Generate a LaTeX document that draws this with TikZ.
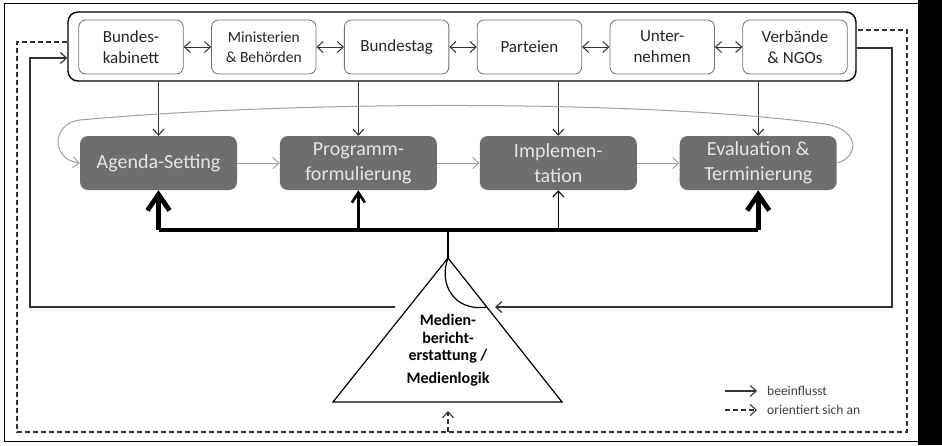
\documentclass[tikz,border=0pt]{standalone}
\usepackage{fontspec}
\setmainfont{Carlito}
\usetikzlibrary{positioning,arrows.meta}

\definecolor{phasegray}{HTML}{6E6E6E}
\definecolor{phasetext}{HTML}{E6E6E6}
\definecolor{flowgray}{HTML}{A0A0A0}
\definecolor{boxgray}{HTML}{707070}
\definecolor{darkline}{HTML}{333333}

\tikzset{
    actor/.style={draw=boxgray, line width=0.8pt, fill=white, rounded corners=7pt, minimum width=104.5pt,
        minimum height=54pt, align=center, inner sep=1pt, text=black!85,
        font=\fontsize{17}{21}\selectfont},
    phase/.style={fill=phasegray, rounded corners=8pt, minimum width=157pt,
        minimum height=54pt, align=center, text=phasetext,
        font=\fontsize{20}{25}\selectfont},
    influence/.style={darkline, line width=1.1pt, ->},
    feedback/.style={flowgray, line width=1pt, ->},
    orient/.style={darkline, line width=1.1pt, dash pattern=on 5pt off 3pt},
    legendtext/.style={anchor=west, inner xsep=10pt, inner ysep=0pt, text=black!75,
        font=\fontsize{13.5}{16}\selectfont}
}

\begin{document}
\begin{tikzpicture}[x=1pt, y=-1pt, >={Straight Barb[length=6pt,width=11pt]}]
    \useasboundingbox (0,0) rectangle (942,445);
    \fill[black] (918,0) rectangle (942,445);
    \draw[line width=1pt] (4,3) rectangle (918,441);

    \node[draw, line width=1.4pt, rounded corners=10pt, minimum width=788pt,
        minimum height=69pt] (akteure) at (462,46.5) {};

    \node[actor] (kabinett) at (131,47) {Bundes-\\kabinett};
    \node[actor, right=27.5pt of kabinett, font=\fontsize{15.5}{20}\selectfont] (ministerien) {Ministerien\\\& Behörden};
    \node[actor, right=27.5pt of ministerien] (bundestag) {Bundestag};
    \node[actor, right=27.5pt of bundestag] (parteien) {Parteien};
    \node[actor, right=27.5pt of parteien] (unternehmen) {Unter-\\nehmen};
    \node[actor, right=27.5pt of unternehmen] (verbaende) {Verbände\\\& NGOs};

    \draw[darkline, line width=1pt, <->] (kabinett) -- (ministerien);
    \draw[darkline, line width=1pt, <->] (ministerien) -- (bundestag);
    \draw[darkline, line width=1pt, <->] (bundestag) -- (parteien);
    \draw[darkline, line width=1pt, <->] (parteien) -- (unternehmen);
    \draw[darkline, line width=1pt, <->] (unternehmen) -- (verbaende);

    \node[phase] (agenda) at (158.5,163) {Agenda-Setting};
    \node[phase, right=42.5pt of agenda] (programm) {Programm-\\formulierung};
    \node[phase, right=42.5pt of programm] (implementation) {Implemen-\\tation};
    \node[phase, right=42.5pt of implementation] (evaluation) {Evaluation \&\\Terminierung};

    \draw[influence] (agenda |- akteure.south) -- (agenda);
    \draw[influence] (programm |- akteure.south) -- (programm);
    \draw[influence] (implementation |- akteure.south) -- (implementation);
    \draw[influence] (evaluation |- akteure.south) -- (evaluation);

    \draw[feedback] (agenda) -- (programm);
    \draw[feedback] (programm) -- (implementation);
    \draw[feedback] (implementation) -- (evaluation);
    \draw[feedback] (evaluation.east) .. controls (858,158) and (862,130) .. (825,124)
        .. controls (650,100) and (300,100) .. (80,120)
        .. controls (50,124) and (52,160) .. (agenda.west);

    \coordinate (balken) at (448,230);
    \coordinate (spitze) at (448,258);
    \coordinate (basisL) at (333,402);
    \coordinate (basisR) at (562,402);
    \coordinate (bogen) at (487,307);

    \draw[line width=3.8pt] (agenda |- balken) -- (evaluation |- balken);
    \draw[line width=4.8pt, -{Straight Barb[length=16pt,width=22pt]}] (agenda |- balken) -- (agenda.south);
    \draw[line width=2.6pt, -{Straight Barb[length=10pt,width=13pt]}] (programm |- balken) -- (programm.south);
    \draw[line width=1.1pt, ->] (implementation |- balken) -- (implementation.south);
    \draw[line width=4.8pt, -{Straight Barb[length=16pt,width=22pt]}] (evaluation |- balken) -- (evaluation.south);
    \draw[line width=1.6pt] (balken) -- (spitze);

    \draw[line width=1.2pt] (spitze) -- (basisL) -- (basisR) -- cycle;
    \draw[line width=1.2pt] (spitze) .. controls (438,285) and (455,312) .. (bogen);
    \node[align=center, font=\bfseries\fontsize{16}{17.5}\selectfont] (medien) at (448,350)
        {Medien-\\bericht-\\erstattung /\\[5pt]Medienlogik};

    \coordinate (rechts) at (892,307);
    \coordinate (rechtsEnde) at (495,307);
    \coordinate (links) at (30,307);
    \coordinate (linksStart) at (395,307);
    \draw[darkline, line width=1.2pt, ->] (akteure.east |- 0,48) -| (rechts) -- (rechtsEnde);
    \draw[darkline, line width=1.2pt, ->] (linksStart) -- (links) |- (akteure.west |- 0,58);

    \coordinate (dashL) at (17,432);
    \coordinate (dashR) at (907,432);
    \coordinate (dashM) at (448,411);
    \draw[orient] (akteure.west |- 0,42) -| (dashL) -- (dashR) |- (akteure.east |- 0,30);
    \draw[orient, ->] (spitze |- dashL) -- (dashM);

    \node[legendtext] (legende1) at (757,391) {beeinflusst};
    \node[legendtext] (legende2) at (757,410) {orientiert sich an};
    \coordinate (legstart1) at (725,391);
    \coordinate (legstart2) at (725,410);
    \draw[darkline, line width=1.1pt, ->] (legstart1) -- (legende1.west);
    \draw[orient, ->] (legstart2) -- (legende2.west);
\end{tikzpicture}
\end{document}
